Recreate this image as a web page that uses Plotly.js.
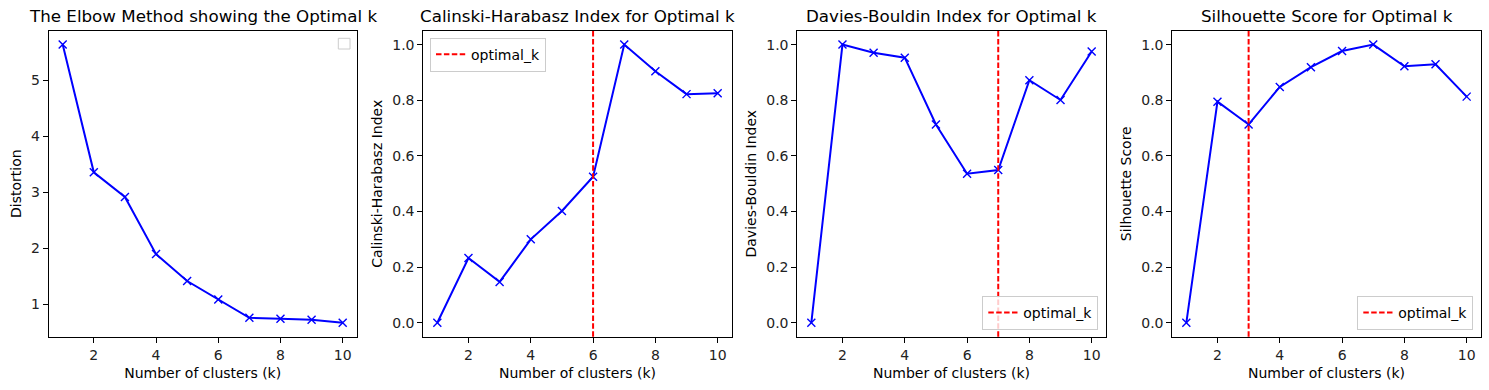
<!DOCTYPE html>
<html>
<head>
<meta charset="utf-8">
<script src="https://cdn.plot.ly/plotly-3.0.1.min.js"></script>
<style>html,body{margin:0;padding:0;background:#fff}#chart{width:1489px;height:390px}</style>
</head>
<body>
<div id="chart"></div>
<script>
// ---- data ----
const kValues = [1, 2, 3, 4, 5, 6, 7, 8, 9, 10];
const distortion = [5.64, 3.36, 2.92, 1.90, 1.42, 1.09, 0.763, 0.745, 0.727, 0.674];
const calinski = [0.0, 0.233, 0.147, 0.300, 0.402, 0.525, 1.0, 0.904, 0.822, 0.825];
const davies = [0.0, 1.0, 0.971, 0.953, 0.713, 0.536, 0.549, 0.872, 0.801, 0.975];
const silhouette = [0.0, 0.795, 0.713, 0.848, 0.919, 0.977, 1.0, 0.922, 0.929, 0.813];
const optimalCalinski = 6;
const optimalDavies = 7;
const optimalSilhouette = 3;
const titles = ["The Elbow Method showing the Optimal k", "Calinski-Harabasz Index for Optimal k",
                "Davies-Bouldin Index for Optimal k", "Silhouette Score for Optimal k"];
const yTitles = ["Distortion", "Calinski-Harabasz Index", "Davies-Bouldin Index", "Silhouette Score"];
const xTitle = "Number of clusters (k)";

// ---- layout helpers ----
const W = 1489, H = 390;
const px = [[48.7, 356.7], [423.3, 731.7], [797.3, 1105.7], [1172.3, 1480.7]];
const yDom = [1 - 336.7 / H, 1 - 30.7 / H];
const FONT = "DejaVu Sans, sans-serif";

function padRange(arr) {
  const mn = Math.min(...arr), mx = Math.max(...arr);
  const d = (mx - mn) * 0.05;
  return [mn - d, mx + d];
}
const xr = padRange(kValues);
const series = [distortion, calinski, davies, silhouette];

const data = series.map((s, i) => ({
  type: "scatter", mode: "lines+markers",
  x: kValues, y: s,
  xaxis: i === 0 ? "x" : "x" + (i + 1),
  yaxis: i === 0 ? "y" : "y" + (i + 1),
  line: {color: "#0000ff", width: 2},
  marker: {symbol: "x-thin", size: 8, color: "#0000ff", line: {color: "#0000ff", width: 1.4}},
  showlegend: false, hoverinfo: "x+y"
}));

const layout = {
  width: W, height: H,
  margin: {l: 0, r: 0, t: 0, b: 0},
  paper_bgcolor: "#fff", plot_bgcolor: "#fff",
  font: {family: FONT, size: 14, color: "#000"},
  showlegend: true,
  annotations: [], shapes: []
};

for (let i = 0; i < 4; i++) {
  const sfx = i === 0 ? "" : String(i + 1);
  const axCommon = {
    showgrid: false, zeroline: false, showline: true, mirror: true,
    linecolor: "#000", linewidth: 1, ticks: "outside", ticklen: 5, tickwidth: 1,
    tickcolor: "#000", tickfont: {family: FONT, size: 14, color: "#222"}
  };
  layout["xaxis" + sfx] = Object.assign({}, axCommon, {
    domain: [px[i][0] / W, px[i][1] / W], range: xr, dtick: 2, tick0: 0,
    anchor: "y" + sfx,
    title: {text: xTitle, font: {family: FONT, size: 14, color: "#000"}, standoff: 6}
  });
  const yr = padRange(series[i]);
  layout["yaxis" + sfx] = Object.assign({}, axCommon, {
    domain: yDom, range: yr, anchor: "x" + sfx,
    dtick: i === 0 ? 1 : 0.2, tick0: 0,
    tickformat: i === 0 ? "d" : ".1f",
    title: {text: yTitles[i], font: {family: FONT, size: 14, color: "#000"}, standoff: 6}
  });
  layout.annotations.push({
    text: titles[i], xref: "paper", yref: "paper",
    x: (px[i][0] + px[i][1]) / 2 / W, y: yDom[1],
    xanchor: "center", yanchor: "bottom", yshift: 3, showarrow: false,
    font: {family: FONT, size: 16.7, color: "#000"}
  });
}

// optimal k vertical lines (shown in legends)
const optimals = [[optimalCalinski, "2", "legend"], [optimalDavies, "3", "legend2"], [optimalSilhouette, "4", "legend3"]];
optimals.forEach(([k, s, lg]) => {
  layout.shapes.push({
    type: "line", xref: "x" + s, yref: "y" + s + " domain",
    x0: k, x1: k, y0: 0, y1: 1,
    line: {color: "#ff0000", width: 2, dash: "5.5px,2.4px"},
    showlegend: true, name: "optimal_k", legend: lg
  });
});

// empty legend box in first panel
layout.shapes.push({
  type: "rect", xref: "paper", yref: "paper",
  x0: 338.3 / W, x1: 350 / W, y0: 1 - 49 / H, y1: 1 - 38.3 / H,
  line: {color: "#cccccc", width: 1}, fillcolor: "#ffffff", layer: "above"
});

const legStyle = {bgcolor: "rgba(255,255,255,0.8)", bordercolor: "#cccccc", borderwidth: 1,
  font: {family: FONT, size: 14, color: "#000"}, xref: "paper", yref: "paper"};
layout.legend = Object.assign({}, legStyle, {x: 430 / W, y: 1 - 37.7 / H, xanchor: "left", yanchor: "top"});
layout.legend2 = Object.assign({}, legStyle, {x: 1098.3 / W, y: 1 - 330 / H, xanchor: "right", yanchor: "bottom"});
layout.legend3 = Object.assign({}, legStyle, {x: 1473.3 / W, y: 1 - 330 / H, xanchor: "right", yanchor: "bottom"});

Plotly.newPlot("chart", data, layout, {displayModeBar: false, staticPlot: false});
</script>
</body>
</html>
